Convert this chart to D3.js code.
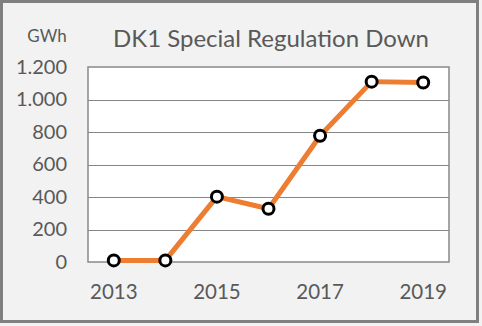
<!DOCTYPE html>
<html>
<head>
<meta charset="utf-8">
<script src="https://cdn.jsdelivr.net/npm/d3@7"></script>
<style>
  html, body { margin: 0; padding: 0; background: #f2f2f2; }
  svg { display: block; }
</style>
</head>
<body>
<svg id="chart" width="482" height="326"></svg>
<script>
// Annual volumes of special regulation down in DK1, GWh
const years = [2013, 2014, 2015, 2016, 2017, 2018, 2019];
const values = [10, 10, 402, 328, 777, 1110, 1105];
const yTicks = [0, 200, 400, 600, 800, 1000, 1200];
const xLabelYears = [2013, 2015, 2017, 2019];

const W = 482, H = 326;
const plot = { left: 88, right: 449, top: 67, bottom: 262 };
const font = "Lato, 'Noto Sans', sans-serif";
const textColor = "#595959";

const svg = d3.select("#chart");

// chart background and outer frame
svg.append("rect")
  .attr("x", 1.5).attr("y", 1.5)
  .attr("width", 476).attr("height", 320)
  .attr("fill", "#f2f2f2")
  .attr("stroke", "#7f7f7f").attr("stroke-width", 3);

const x = d3.scaleBand().domain(years).range([plot.left, plot.right]);
const y = d3.scaleLinear().domain([0, 1200]).range([plot.bottom, plot.top]);

// plot area
svg.append("rect")
  .attr("x", plot.left).attr("y", plot.top)
  .attr("width", plot.right - plot.left).attr("height", plot.bottom - plot.top)
  .attr("fill", "#ffffff");

// horizontal gridlines
svg.append("g")
  .selectAll("line")
  .data(yTicks.slice(1, -1))
  .join("line")
  .attr("x1", plot.left).attr("x2", plot.right)
  .attr("y1", d => Math.round(y(d)) + 0.5).attr("y2", d => Math.round(y(d)) + 0.5)
  .attr("stroke", "#868686").attr("stroke-width", 1);

// plot area border
svg.append("rect")
  .attr("x", plot.left).attr("y", plot.top)
  .attr("width", plot.right - plot.left).attr("height", plot.bottom - plot.top)
  .attr("fill", "none")
  .attr("stroke", "#898989").attr("stroke-width", 1.5);

// y axis labels
const yAxis = d3.axisLeft(y)
  .tickValues(yTicks)
  .tickSize(0)
  .tickPadding(0)
  .tickFormat(d => d3.format(",")(d).replace(/,/g, "."));
const yg = svg.append("g")
  .attr("transform", `translate(${plot.left - 21},0)`)
  .call(yAxis);
yg.select(".domain").remove();
yg.selectAll("text")
  .attr("font-family", font).attr("font-size", 20)
  .attr("fill", textColor);

// x axis labels, every other year
const xAxis = d3.axisBottom(x)
  .tickValues(xLabelYears)
  .tickSize(0)
  .tickPadding(0);
const xg = svg.append("g")
  .attr("transform", `translate(0,${plot.bottom + 22})`)
  .call(xAxis);
xg.select(".domain").remove();
xg.selectAll("text")
  .attr("font-family", font).attr("font-size", 20.5)
  .attr("fill", textColor);

// series line
const cx = d => x(d) + x.bandwidth() / 2;
const line = d3.line()
  .x((d, i) => cx(years[i]))
  .y(d => y(d));
svg.append("path")
  .datum(values)
  .attr("d", line)
  .attr("fill", "none")
  .attr("stroke", "#ed7d31")
  .attr("stroke-width", 5)
  .attr("stroke-linejoin", "round");

// markers
svg.append("g")
  .selectAll("circle")
  .data(values)
  .join("circle")
  .attr("cx", (d, i) => cx(years[i]))
  .attr("cy", d => y(d))
  .attr("r", 5.5)
  .attr("fill", "#ffffff")
  .attr("stroke", "#000000")
  .attr("stroke-width", 3);

// title and unit
svg.append("text")
  .attr("x", 271).attr("y", 47)
  .attr("text-anchor", "middle")
  .attr("font-family", font).attr("font-size", 24)
  .attr("fill", textColor)
  .text("DK1 Special Regulation Down");

svg.append("text")
  .attr("x", 47).attr("y", 42)
  .attr("text-anchor", "middle")
  .attr("font-family", font).attr("font-size", 17)
  .attr("fill", textColor)
  .text("GWh");
</script>
</body>
</html>
